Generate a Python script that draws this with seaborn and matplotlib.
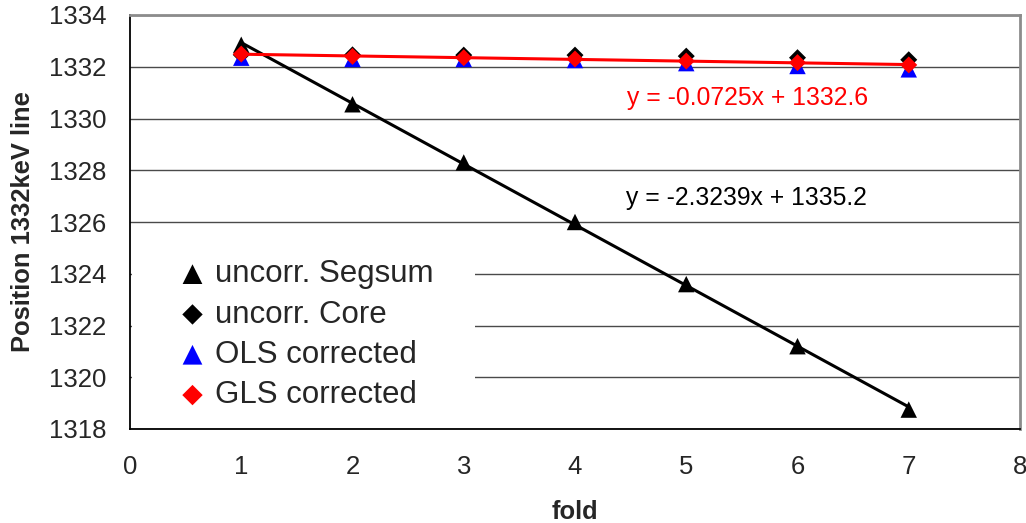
import numpy as np
import matplotlib
matplotlib.use("Agg")
import matplotlib.pyplot as plt
import seaborn as sns
from matplotlib.patches import Rectangle

# data
fold = [1, 2, 3, 4, 5, 6, 7]
segsum = [1332.85, 1330.55, 1328.3, 1326.0, 1323.6, 1321.2, 1318.75]
core = [1332.46, 1332.46, 1332.45, 1332.45, 1332.41, 1332.35, 1332.27]
ols = [1332.35, 1332.3, 1332.3, 1332.26, 1332.14, 1332.03, 1331.9]
gls = [1332.49, 1332.4, 1332.35, 1332.3, 1332.22, 1332.16, 1332.07]
eq_segsum = "y = -2.3239x + 1335.2"
eq_gls = "y = -0.0725x + 1332.6"

sns.set_style("white")
plt.rcParams['font.family'] = ['Liberation Sans', 'DejaVu Sans']

fig = plt.figure(figsize=(10.26, 5.23), dpi=100)
ax = fig.add_axes([130 / 1026, 94 / 523, 890 / 1026, 414 / 523])

sns.scatterplot(x=fold, y=segsum, marker='^', s=140, color='black',
                edgecolor='none', label='uncorr. Segsum', ax=ax, zorder=3)
sns.scatterplot(x=fold, y=core, marker='D', s=75, color='black',
                edgecolor='none', label='uncorr. Core', ax=ax, zorder=3)
sns.scatterplot(x=fold, y=ols, marker='^', s=140, color='#0000ff',
                edgecolor='none', label='OLS corrected', ax=ax, zorder=3)
sns.scatterplot(x=fold, y=gls, marker='D', s=75, color='#ff0000',
                edgecolor='none', label='GLS corrected', ax=ax, zorder=4)

# linear trendlines
sns.regplot(x=fold, y=segsum, scatter=False, ci=None, truncate=True, ax=ax,
            line_kws=dict(color='black', lw=2.2, zorder=3.5))
sns.regplot(x=fold, y=gls, scatter=False, ci=None, truncate=True, ax=ax,
            line_kws=dict(color='#ff0000', lw=2.2, zorder=4.5))

ax.text(4.47, 1330.79, eq_gls, color='#ff0000', fontsize=17.8, ha='left', va='center')
ax.text(4.46, 1326.93, eq_segsum, color='black', fontsize=17.8, ha='left', va='center')

ax.set_xlim(0, 8)
ax.set_ylim(1318, 1334)
ax.set_xticks(range(0, 9))
ax.set_yticks(range(1318, 1335, 2))
ax.set_axisbelow(True)
ax.yaxis.grid(True, color='#4a4a4a', lw=1.0)
ax.xaxis.grid(False)

for s in ['left', 'bottom']:
    ax.spines[s].set_color('black')
    ax.spines[s].set_linewidth(1.3)
for s in ['top', 'right']:
    ax.spines[s].set_color('#8c8c8c')
    ax.spines[s].set_linewidth(2.0)

ax.tick_params(axis='both', direction='out', length=7, width=1.2, color='black',
               labelsize=18.5, pad=10)
ax.tick_params(axis='x', pad=12)

ax.set_xlabel('fold', fontsize=18.4, fontweight='bold', labelpad=15)
ax.set_ylabel('Position 1332keV line', fontsize=18.4, fontweight='bold', labelpad=10)

# white area behind the legend hides the gridlines
ax.add_patch(Rectangle((0.002, 0.004), 0.386, 0.452, transform=ax.transAxes,
                       facecolor='white', edgecolor='none', zorder=1))

ax.legend(loc='upper left', bbox_to_anchor=(0.043, 0.44), frameon=False,
          fontsize=22.5, handlelength=0.75, handletextpad=0.33, labelspacing=0.33,
          borderaxespad=0, markerscale=1.2)

fig.savefig('out.png', dpi=100)
